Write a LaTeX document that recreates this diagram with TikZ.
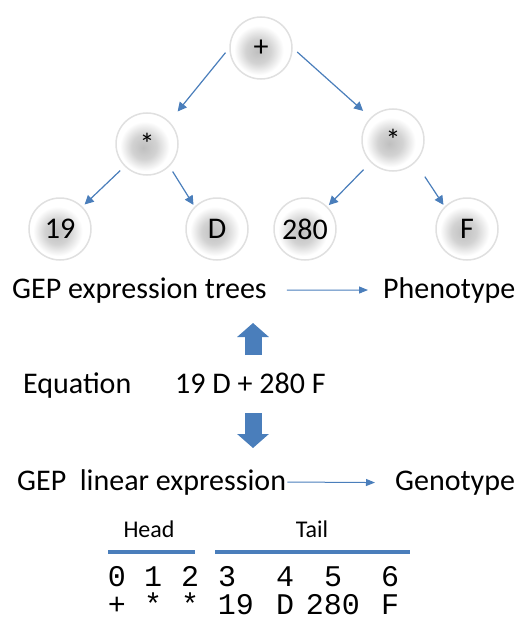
\documentclass[tikz,border=0pt]{standalone}
\usepackage{fontspec}
\setmainfont{Carlito}
\setmonofont{Liberation Mono}
\usetikzlibrary{arrows.meta,positioning,calc}
\definecolor{GepBlue}{HTML}{4A7EBB}
\definecolor{GepRim}{HTML}{E0E0E0}
\pgfdeclareradialshading{blob}{\pgfpoint{-3bp}{-3bp}}{color(0bp)=(gray!50);
  color(10bp)=(gray!35); color(20bp)=(white); color(50bp)=(white)}

\begin{document}
\begin{tikzpicture}[x=1pt, y=-1pt,
  gene/.style={circle, minimum size=62pt, inner sep=0pt, draw=GepRim, line width=1.5pt,
    shading=blob, font=\fontsize{30}{34}\selectfont},
  txt/.style={inner sep=0pt, anchor=base west, font=\fontsize{30}{34}\selectfont},
  small/.style={inner sep=0pt, anchor=base, font=\fontsize{24}{28}\selectfont},
  mono/.style={inner sep=0pt, anchor=base, font=\ttfamily\fontsize{30}{34}\selectfont},
  edge/.style={-{Triangle[length=9pt,width=9pt]}, GepBlue, line width=1.2pt},
  flow/.style={-{Triangle[length=9pt,width=7pt]}, GepBlue, line width=1pt},
  block/.style={-{Triangle[length=14pt,width=31pt]}, GepBlue, line width=17pt},
  bar/.style={GepBlue, line width=4pt}]
  \useasboundingbox (0,0) rectangle (518,626);

  % expression tree
  \node[gene] (add) at (261,48) {+};
  \node[gene] (mull) at (147,144) {*};
  \node[gene] (mulr) at (393,140) {*};
  \node[gene] (n19) at (60,229) {19};
  \node[gene] (nD) at (217,229) {D};
  \node[gene] (n280) at (305,229) {280};
  \node[gene] (nF) at (467,229) {F};
  \draw[edge, shorten <=6pt, shorten >=13pt] (add.west) -- (mull.north east);
  \draw[edge, shorten <=6pt, shorten >=10pt] (add.east) -- (mulr.north west);
  \draw[edge, shorten <=6pt, shorten >=3pt] (mull.south west) -- (n19.north east);
  \draw[edge, shorten <=6pt, shorten >=2pt] (mull.south east) -- (nD.north west);
  \draw[edge, shorten <=10pt, shorten >=2pt] (mulr.south west) -- (n280.north east);
  \draw[edge, shorten <=17pt, shorten >=2pt] (mulr.south east) -- (nF.north west);

  \node[txt] (trees) at (12,298) {GEP expression trees};
  \node[txt] (pheno) at (383,298) {Phenotype};
  \draw[flow, shorten <=20pt, shorten >=15pt] (trees.east) -- (pheno.west);

  % equation
  \node[txt] (eqn) at (23,393) {Equation};
  \node[txt] (formula) at (175,393) {19 D + 280 F};
  \coordinate (upbase) at (253,355);
  \coordinate (uptip) at (253,323);
  \coordinate (dnbase) at (253,413);
  \coordinate (dntip) at (253,448);
  \draw[block] (upbase) -- (uptip);
  \draw[block] (dnbase) -- (dntip);

  % linear genome
  \node[txt] (linear) at (17,490) {GEP\ \ linear expression};
  \node[txt] (geno) at (395,490) {Genotype};
  \draw[flow, shorten <=1pt, shorten >=20pt] (linear.east) -- (geno.west);

  \node[small] (head) at (149,537) {Head};
  \node[small] (tail) at (312,537) {Tail};
  \draw[bar] (108,552) -- (195,552);
  \draw[bar] (215,552) -- (410,552);

  \foreach \i/\g/\xi/\xs in {0/+/117/117, 1/*/153/153, 2/*/190/190, 3/19/227/236,
      4/D/285/285, 5/280/333/333, 6/F/390/390}{
    \node[mono] (idx\i) at (\xi,586) {\i};
    \node[mono] (sym\i) at (\xs,614) {\g};
  }
\end{tikzpicture}
\end{document}
